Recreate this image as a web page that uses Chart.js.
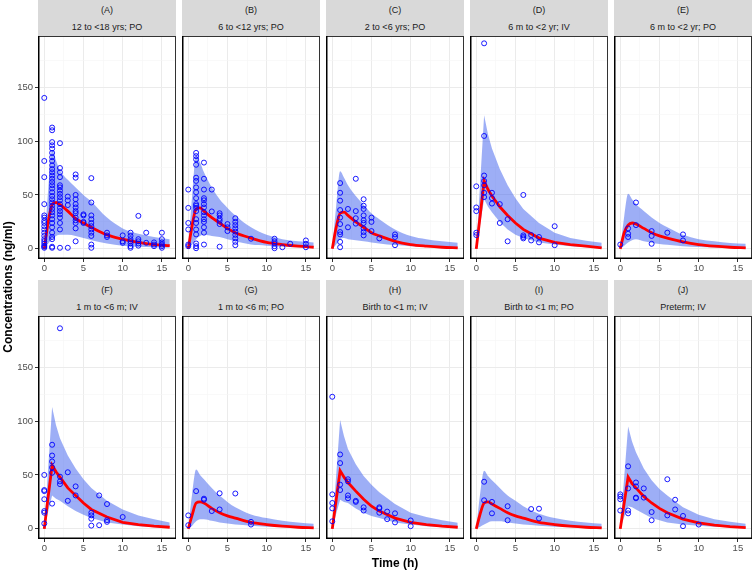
<!DOCTYPE html>
<html>
<head>
<meta charset="utf-8">
<script src="https://cdn.jsdelivr.net/npm/chart.js@4.4.1/dist/chart.umd.min.js"></script>
<style>
  body { margin: 0; background: #fff; }
  #wrap { position: relative; width: 753px; height: 571px; font-family: "Liberation Sans", Arial, sans-serif; }
  #wrap canvas { position: absolute; }
  .strip { position: absolute; background: #D9D9D9; color: #1A1A1A; font-size: 9px; text-align: center; }
  .strip span { position: absolute; left: 0; right: 0; line-height: 12px; }
  .title { position: absolute; font-weight: bold; font-size: 12px; color: #000; text-align: center; line-height: 14px; }
</style>
</head>
<body>
<div id="wrap"></div>
<script>
const panelLetters = ['(A)', '(B)', '(C)', '(D)', '(E)', '(F)', '(G)', '(H)', '(I)', '(J)'];
const panelTitles = ['12 to <18 yrs; PO', '6 to <12 yrs; PO', '2 to <6 yrs; PO', '6 m to <2 yr; IV', '6 m to <2 yr; PO',
                     '1 m to <6 m; IV', '1 m to <6 m; PO', 'Birth to <1 m; IV', 'Birth to <1 m; PO', 'Preterm; IV'];
const routes = ['PO', 'PO', 'PO', 'IV', 'PO', 'IV', 'PO', 'IV', 'PO', 'IV'];

const xTicks = [0, 5, 10, 15];
const yTicks = [0, 50, 100, 150];

// prediction times (h)
const predTimes = [0, 0.5, 1, 1.5, 2, 3, 4, 5, 6, 8, 10, 12, 14, 16];

// median prediction per panel
const medians = [
  [0, 25, 41, 43, 41, 35, 28, 24, 20, 13, 9, 6, 4, 3],
  [0, 22, 37, 38, 35, 29, 24, 19, 15, 10, 6, 4, 2.5, 1.5],
  [0, 20, 33, 34, 31, 25, 20, 15, 12, 7, 4, 2.5, 1.5, 1],
  [0, 31, 63, 55, 49, 39, 31, 24, 18, 10, 6, 4, 2.5, 1],
  [0, 15, 22, 24, 23, 19, 15, 12, 10, 6.5, 4, 2.5, 1.5, 1],
  [0, 30, 59, 53, 48, 38, 31, 24, 18, 11, 6, 4, 2.5, 1.5],
  [0, 13, 24, 25, 24, 19, 15, 12, 10, 6, 4, 2.5, 1.5, 1],
  [0, 27, 54, 48, 43, 35, 27.5, 21, 16.5, 10, 6, 4, 2.5, 1.5],
  [0, 14, 24, 25, 23, 19, 15, 12, 10, 6, 4, 2.5, 1.5, 1],
  [0, 24, 48, 42, 38, 30, 24, 19, 15, 9, 5.6, 3.5, 2, 1.2]
];

// upper bound of the prediction interval
const upperBand = [
  [0, 55, 92, 82, 73, 64, 57, 50, 44, 29, 19, 14, 11, 9],
  [0, 50, 87, 80, 71, 57, 46, 38, 31, 20, 13, 9, 7, 6],
  [0, 40, 72, 66, 59, 49, 41, 33, 27.5, 18, 12, 9, 7, 5.6],
  [0, 62, 124, 106, 93, 74, 59, 47, 37, 24, 15, 10, 7.5, 5.6],
  [0, 30, 51, 46, 41.5, 35, 29, 24, 20, 13, 9, 7, 5.5, 4.7],
  [0, 57, 113, 96, 84, 68, 56, 46, 38, 26, 18, 12.5, 9, 6],
  [0, 33, 55, 50, 46, 38, 31, 25, 20, 13.4, 10, 7.5, 6, 4.7],
  [0, 50, 101, 86, 74, 60, 49, 41, 34, 23, 15, 11, 8, 5.6],
  [0, 33, 54, 49, 45, 38, 31, 26, 21, 14, 10, 7.5, 6, 4.7],
  [0, 48, 95, 81, 71, 56, 45, 37, 31, 20, 13, 9, 6.5, 4.7]
];

// lower bound of the prediction interval
const lowerBand = [
  [0, 5, 9, 12, 13, 13, 12, 10, 8, 5, 3, 2, 1.5, 1],
  [0, 4, 9, 12, 13, 12, 11, 9, 7, 4, 3, 2, 1.5, 1],
  [0, 4, 9, 10, 9, 8, 7, 6, 5, 3.5, 2.5, 2, 1.5, 1],
  [0, 23, 46, 39, 34, 25, 18, 13, 10, 6, 4, 2.5, 1.5, 1],
  [0, 3, 6, 8, 9, 7, 5.6, 4.5, 3.8, 2.5, 1.7, 1.2, 0.9, 0.6],
  [0, 16, 31, 28, 26, 21, 16.5, 13, 10, 6, 4, 2.5, 1.5, 1],
  [0, 3, 7, 9, 9, 7.5, 6, 5, 4, 3, 2, 1.5, 1.2, 1],
  [0, 14, 27, 25, 24, 19, 15, 12, 10, 6, 4, 2.5, 1.5, 1],
  [0, 2, 4, 6, 7, 7, 6, 5, 4, 3, 2, 1.5, 1.2, 1],
  [0, 11, 21, 20, 18, 14, 10, 8, 6, 4, 3, 2, 1.5, 1]
];

// observed concentrations: [time, [values...]]
const observed = [
  [[0, [140, 81.5, 66.5, 41.5, 31, 29, 26, 24, 21, 18, 15, 12, 9, 7, 5, 3, 2, 1]],
   [1, [112.5, 110, 99, 96, 93, 89, 85, 81.5, 77.5, 74, 71, 68, 65, 62, 59, 56, 52.5, 49, 46, 43, 40, 37, 34, 31, 27.5, 24, 20, 15, 11, 9, 2, 1]],
   [2, [98, 75, 71, 66.5, 59, 57, 54, 51, 48, 45, 41.5, 38, 35, 32, 29, 24, 18, 1]],
   [3, [48.5, 45, 40.6, 1]],
   [4, [69, 66, 50, 46, 41.5, 38.4, 35, 33, 29, 26.5, 24, 19, 7]],
   [5, [32, 31, 25, 24]],
   [6, [65.6, 43, 31, 27.5, 24, 21, 18, 15, 12, 4, 1]],
   [8, [15, 12.5, 11]],
   [10, [12.5, 7, 5.6]],
   [11, [15, 12, 9, 7, 5, 2.5, 1]],
   [12, [30.6, 9, 7, 5, 3]],
   [13, [15, 5.6]],
   [14, [6, 4, 2.5]],
   [15, [15, 9, 6, 4, 2.5, 1]]],
  [[0, [55, 38, 24, 18, 4, 2.5]],
   [1, [89, 86, 83, 78, 66, 63, 57, 52.5, 47, 41.5, 40, 38, 35, 27.5, 24, 18, 13.4, 5, 2.5, 0.6]],
   [2, [80, 65, 55, 47, 45, 41.5, 38.4, 34, 31, 27.5, 25, 20, 15, 4]],
   [3, [55, 34.7]],
   [4, [33, 31, 28, 26, 23, 2]],
   [5, [23, 20, 16.5]],
   [6, [28.4, 25, 22, 19, 16, 13, 9.7, 6.5, 3.4]],
   [8, [9.4]],
   [11, [9.4, 7, 5, 2.5, 0.6]],
   [12, [1.5]],
   [13, [4.7]],
   [15, [7.8, 4.7, 1.5]]],
  [[1, [61, 52, 44.7, 36, 29, 23, 15.6, 13.4, 6.5, 1.5]],
   [2, [37, 20]],
   [3, [65, 35, 28.4, 23.4]],
   [4, [46, 40, 37, 31, 26.5, 24, 19, 15.6, 12.5]],
   [5, [29, 25, 16.5]],
   [6, [9.7]],
   [8, [13.4, 11, 3.4]]],
  [[0, [58, 38.4, 35, 15, 12.8]],
   [1, [190.6, 104.7, 68, 63, 59, 52, 48]],
   [2, [52, 47, 42]],
   [3, [41.5, 24]],
   [4, [27.5, 7]],
   [6, [50, 12.5, 11, 9.7]],
   [7, [12.8, 7.8]],
   [8, [11, 6]],
   [10, [21, 3.4]]],
  [[0, [4]], [1, [19, 14, 11]], [2, [43, 22]], [4, [16.5, 12, 4.7]], [6, [15]], [8, [13.4, 7.8]]],
  [[0, [50, 36, 35, 27.5, 16.5, 15, 5]],
   [1, [78, 68, 62.5, 57, 52, 23.4]],
   [2, [186, 48.4, 44, 41.5]],
   [3, [52.5, 26]],
   [4, [39.4, 31]],
   [6, [15, 12.5, 9.4, 3]],
   [7, [31, 3.4]],
   [8, [23, 8, 6.5]],
   [10, [11]]],
  [[0, [12.5, 3.4]], [1, [35]], [2, [28, 27]], [3, [16.5]], [4, [33, 18]], [6, [32.8]], [8, [6.5, 4]]],
  [[0, [122.5, 32, 24, 19, 7]], [1, [69, 61, 41, 36]], [2, [46, 44, 31, 28.4]], [3, [26, 25]],
   [4, [20, 17]], [6, [20, 19, 15]], [7, [16, 9]], [8, [14.4, 6]], [10, [7.8, 2.5]]],
  [[1, [43.7, 26.5]], [2, [25, 14.4]], [4, [21, 8]], [7, [18.4]], [8, [18.7, 9.7]]],
  [[0, [32, 30, 27.5, 17]], [1, [58, 37.5, 17, 14.4]], [2, [43, 39.4, 29, 28.4]], [3, [37.5, 29]],
   [4, [15.6, 8]], [6, [46, 12.5]], [7, [27, 18]], [8, [12, 2.5]], [10, [4]]]
];

const wrap = document.getElementById('wrap');
const FONT = '"Liberation Sans", Arial, sans-serif';
const colLeft = [38, 182, 326, 470, 614];
const rowTop = [36, 316];
const plotW = 138, plotH = 223;
const xGrid = [0, 2.5, 5, 7.5, 10, 12.5, 15];
const yGrid = [0, 25, 50, 75, 100, 125, 150, 175];

// panel border: grey top/right, black axis lines left/bottom
const frame = {
  id: 'frame',
  afterDatasetsDraw(chart) {
    const { ctx, chartArea: a } = chart;
    ctx.save();
    ctx.strokeStyle = '#333';
    ctx.lineWidth = 1;
    ctx.strokeRect(a.left + 0.5, a.top + 0.5, a.width - 1, a.height - 1);
    ctx.strokeStyle = '#000';
    ctx.lineWidth = 1.5;
    ctx.beginPath();
    ctx.moveTo(a.left + 0.75, a.top);
    ctx.lineTo(a.left + 0.75, a.bottom - 0.75);
    ctx.lineTo(a.right, a.bottom - 0.75);
    ctx.stroke();
    ctx.restore();
  }
};

function noPad(s) {
  s.paddingTop = 0; s.paddingBottom = 0; s.paddingLeft = 0; s.paddingRight = 0;
}

function series(vals) {
  return predTimes.map((t, k) => ({ x: t, y: vals[k] }));
}

panelTitles.forEach((title, i) => {
  const r = Math.floor(i / 5), c = i % 5;
  const axW = c === 0 ? 38 : 1;
  const axH = 20, padTop = 1, padRight = 1;

  const strip = document.createElement('div');
  strip.className = 'strip';
  strip.style.left = colLeft[c] + 'px';
  strip.style.top = (r === 0 ? 0 : 280) + 'px';
  strip.style.width = plotW + 'px';
  strip.style.height = '36px';
  strip.innerHTML = '<span style="top:4px"></span><span style="top:21px"></span>';
  strip.children[0].textContent = panelLetters[i];
  strip.children[1].textContent = title;
  wrap.appendChild(strip);

  const cv = document.createElement('canvas');
  const w = axW + plotW + padRight, h = padTop + plotH + axH;
  cv.width = w; cv.height = h;
  cv.style.left = (colLeft[c] - axW) + 'px';
  cv.style.top = (rowTop[r] - padTop) + 'px';
  cv.style.width = w + 'px'; cv.style.height = h + 'px';
  wrap.appendChild(cv);

  const points = observed[i].flatMap(([t, cs]) => cs.map(v => ({ x: t, y: v })));
  const iv = routes[i] === 'IV';
  const curve = iv ? { tension: 0 } : { cubicInterpolationMode: 'monotone' };

  new Chart(cv, {
    type: 'scatter',
    data: {
      datasets: [
        { data: points, showLine: false, pointRadius: 2.5, pointBorderWidth: 0.9,
          borderColor: '#0000FF', backgroundColor: 'rgba(0,0,0,0)' },
        Object.assign({ data: series(medians[i]), showLine: true, pointRadius: 0,
          borderColor: '#FF0000', borderWidth: 2.8 }, curve),
        Object.assign({ data: series(lowerBand[i]), showLine: true, pointRadius: 0,
          borderWidth: 0, borderColor: 'rgba(0,0,0,0)' }, curve),
        Object.assign({ data: series(upperBand[i]), showLine: true, pointRadius: 0,
          borderWidth: 0, borderColor: 'rgba(0,0,0,0)', fill: 2,
          backgroundColor: 'rgba(68,100,238,0.52)' }, curve)
      ]
    },
    options: {
      responsive: false,
      animation: false,
      devicePixelRatio: 1,
      layout: { autoPadding: false, padding: { top: padTop, right: padRight, left: 0, bottom: 0 } },
      plugins: { legend: { display: false }, tooltip: { enabled: false } },
      scales: {
        x: {
          type: 'linear', min: -0.8, max: 16.8,
          afterBuildTicks: s => { s.ticks = xGrid.map(v => ({ value: v })); },
          afterFit: s => { s.height = axH; noPad(s); },
          border: { display: false },
          grid: {
            color: ctx => xTicks.includes(ctx.tick.value) ? '#EBEBEB' : '#F5F5F5',
            lineWidth: ctx => xTicks.includes(ctx.tick.value) ? 1 : 0.6,
            tickColor: ctx => xTicks.includes(ctx.tick.value) ? '#333' : 'rgba(0,0,0,0)',
            tickLength: 3
          },
          ticks: {
            autoSkip: false, maxRotation: 0, padding: 1, color: '#4D4D4D',
            font: { size: 9.5, family: FONT },
            callback: v => xTicks.includes(v) ? String(v) : ''
          }
        },
        y: {
          type: 'linear', min: -9.4, max: 197.4,
          afterBuildTicks: s => { s.ticks = yGrid.map(v => ({ value: v })); },
          afterFit: s => { s.width = axW; noPad(s); },
          border: { display: false },
          grid: {
            color: ctx => yTicks.includes(ctx.tick.value) ? '#EBEBEB' : '#F5F5F5',
            lineWidth: ctx => yTicks.includes(ctx.tick.value) ? 1 : 0.6,
            tickColor: ctx => yTicks.includes(ctx.tick.value) ? '#333' : 'rgba(0,0,0,0)',
            tickLength: 3,
            drawTicks: c === 0
          },
          ticks: {
            display: c === 0, autoSkip: false, padding: 2, color: '#4D4D4D',
            font: { size: 9.5, family: FONT },
            callback: v => yTicks.includes(v) ? String(v) : ''
          }
        }
      }
    },
    plugins: [frame]
  });
});

const xt = document.createElement('div');
xt.className = 'title';
xt.textContent = 'Time (h)';
xt.style.left = '38px'; xt.style.width = '714px'; xt.style.top = '556px';
wrap.appendChild(xt);

const yt = document.createElement('div');
yt.className = 'title';
yt.textContent = 'Concentrations (ng/ml)';
yt.style.left = (8 - 150) + 'px'; yt.style.width = '300px'; yt.style.top = (287 - 7) + 'px';
yt.style.transform = 'rotate(-90deg)';
wrap.appendChild(yt);
</script>
</body>
</html>
